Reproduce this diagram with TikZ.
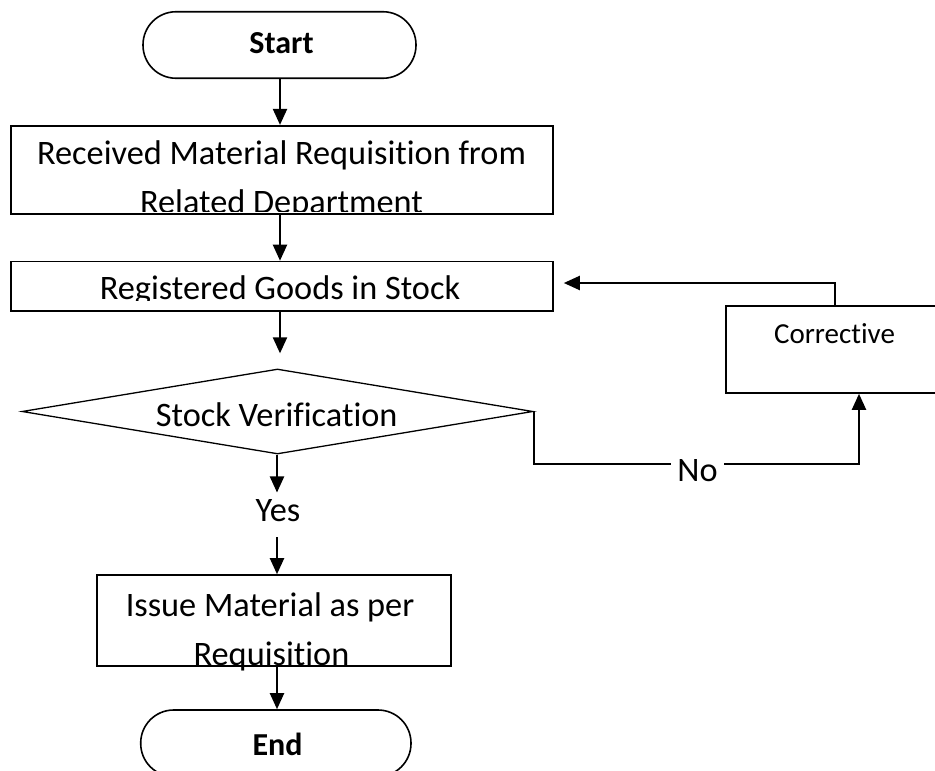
\documentclass[tikz,border=0pt]{standalone}
\usepackage{fontspec}
\setmainfont{Carlito}[RawFeature={-liga;-clig;-calt;-dlig}]
\usetikzlibrary{arrows.meta,shapes.geometric}
% zero kern that keeps letter pairs apart
\newcommand\nolig{\kern0pt{}}

\begin{document}
\begin{tikzpicture}[x=1pt,y=-1pt,
  box/.style={draw, line width=1.6pt, rectangle, inner sep=0pt},
  term/.style={draw, line width=1.6pt, rectangle, rounded corners=33pt, inner sep=0pt},
  txt/.style={anchor=base, inner sep=0pt, font=\fontsize{34.3}{40}\selectfont},
  bold/.style={font=\bfseries\fontsize{32}{38}\selectfont},
  small/.style={font=\fontsize{29}{34}\selectfont},
  arr/.style={line width=2.1pt, -{Triangle[length=16pt,width=14pt]}}]

\useasboundingbox (0,0) rectangle (935,771);
\fill[white] (0,0) rectangle (935,771);

% guide coordinates for the connectors
\coordinate (ax) at (280,0);
\coordinate (bx) at (277,0);
\coordinate (cx) at (859,0);
\coordinate (rx) at (835,0);
\coordinate (ny) at (0,464);
\coordinate (ry) at (0,283);

% start terminal
\node[term, minimum width=273pt, minimum height=66.5pt] (start) at (279.5,45) {};
\node[txt, bold] (tstart) at (281.5,53) {Start};

% requisition box (text is cut by the box frame)
\node[box, minimum width=542.3pt, minimum height=88.3pt] (box1) at (281.85,169.85) {};
\begin{scope}
  \clip (10.7,125.7) rectangle (553,211);
  \node[txt] (t1a) at (281.5,164) {Received Material Requisit\nolig ion from};
  \node[txt] (t1b) at (281.5,213.4) {Related Department};
\end{scope}

% register box
\node[box, minimum width=542.3pt, minimum height=49.5pt] (box2) at (281.85,286.25) {};
\begin{scope}
  \clip (10.7,261.5) rectangle (553,300);
  \node[txt] (t2) at (280,299) {Registered Goods in Stock};
\end{scope}

% decision
\node[diamond, draw, line width=1.3pt, inner sep=0pt, minimum width=511pt, minimum height=85pt] (dec) at (277.5,411.5) {};
\node[txt] (t3) at (276.7,426.7) {Stock Veri\nolig f\nolig icat\nolig ion};

\node[txt] (yes) at (278,521.7) {Yes};

% issue box
\node[box, minimum width=354pt, minimum height=90.7pt] (box3) at (274,620.35) {};
\node[txt] (t4a) at (270,616.7) {Issue Material as per};
\node[txt] (t4b) at (271.5,665) {Requisit\nolig ion};

% end terminal
\node[term, minimum width=270.3pt, minimum height=66.5pt] (end) at (275.85,743.25) {};
\node[txt, bold] (tend) at (277.5,755) {End};

% corrective action box
\node[box, minimum width=218pt, minimum height=87pt] (corr) at (835,349.5) {};
\node[txt, small] (tcorr) at (834.5,343.3) {Correct\nolig ive};

% main flow
\draw[arr] (start.south -| ax) -- (box1.north -| ax);
\draw[arr] (box1.south -| ax) -- (box2.north -| ax);
\draw[arr, shorten >=15pt] (box2.south -| ax) -- (dec.north -| ax);
\draw[arr, shorten >=7pt] (dec.south -| bx) -- (yes.north -| bx);
\draw[arr, shorten <=15pt] (yes.south -| bx) -- (box3.north -| bx);
\draw[arr] (box3.south -| bx) -- (end.north -| bx);

% "No" branch and return loop
\draw[arr] (dec.east) -- (dec.east |- ny) -| (corr.south -| cx);
\node[txt, fill=white, inner xsep=6pt] (no) at (697.5,481) {No};
\draw[arr, shorten >=10pt] (corr.north -| rx) |- (box2.east |- ry);
\end{tikzpicture}
\end{document}
